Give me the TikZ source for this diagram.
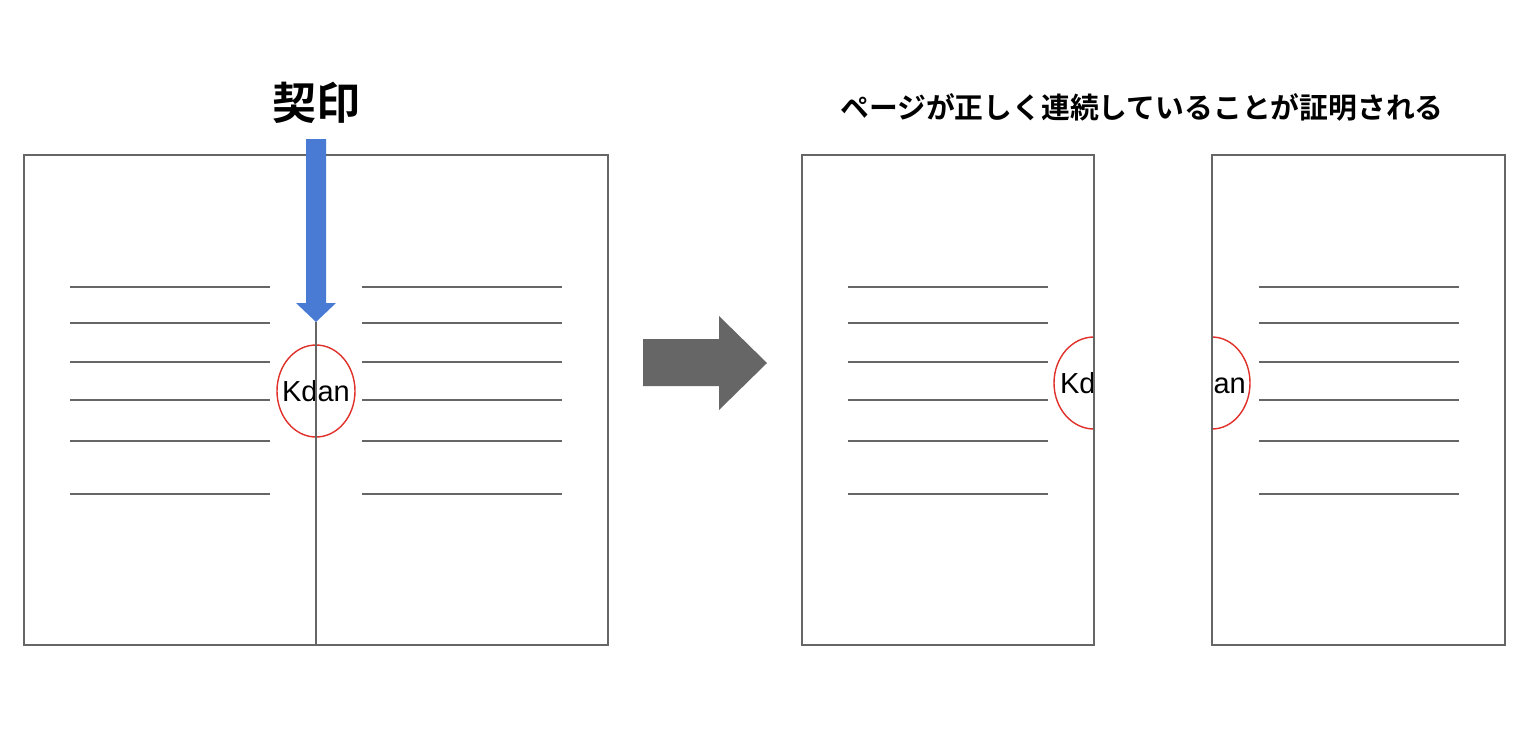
\documentclass[tikz,border=0pt]{standalone}
\usepackage{fontspec}
\setmainfont{Liberation Sans}
\newfontfamily\jpfont{Noto Sans CJK JP}
\newfontfamily\jpbold{Noto Sans CJK JP Bold}
\definecolor{pagegray}{HTML}{666666}
\definecolor{stampred}{HTML}{E0302A}
\definecolor{arrowblue}{HTML}{4A7BD4}
\begin{document}
\begin{tikzpicture}[x=0.5pt,y=-0.5pt,
  pageframe/.style={draw=pagegray,line width=0.75pt},
  textline/.style={draw=pagegray,line width=0.7pt},
  stamp/.style={draw=stampred,line width=0.7pt},
  stamptext/.style={inner sep=0pt,font=\fontsize{14.5}{16}\selectfont}]
\useasboundingbox[fill=white] (0,0) rectangle (1530,734);

% titles
\node (keiin) at (316,103) {\jpbold\fontsize{22}{24}\selectfont 契印};
\node (caption) at (1142,107) {\jpbold\fontsize{14.4}{16}\selectfont ページが正しく連続していることが証明される};

% left spread
\draw[pageframe] (24,155) rectangle (608,645);
\foreach \y in {287,323,362,400,441,494}{
  \draw[textline] (70,\y) -- (270,\y);
  \draw[textline] (362,\y) -- (562,\y);
}
\draw[stamp] (316,391) ellipse [x radius=39, y radius=46];
\node[stamptext] (kdanA) at (316,391) {Kdan};
\coordinate (spinetop) at (316,322);
\coordinate (spinebot) at (316,645);
\draw[pageframe] (spinetop) -- (spinebot);

% blue arrow
\fill[arrowblue] (306,139) -- (326,139) -- (326,303) -- (336,303) -- (316,322) -- (296,303) -- (306,303) -- cycle;

% gray arrow
\fill[pagegray] (643,339) -- (719,339) -- (719,316) -- (767,363) -- (719,410) -- (719,386) -- (643,386) -- cycle;

% middle page
\foreach \y in {287,323,362,400,441,494}{
  \draw[textline] (848,\y) -- (1048,\y);
}
\begin{scope}
  \clip (802,155) rectangle (1094,645);
  \draw[stamp] (1094,383) ellipse [x radius=40, y radius=46];
  \node[stamptext] (kdanB) at (1094,383) {Kdan};
\end{scope}
\draw[pageframe] (802,155) rectangle (1094,645);

% right page
\foreach \y in {287,323,362,400,441,494}{
  \draw[textline] (1259,\y) -- (1459,\y);
}
\begin{scope}
  \clip (1212,155) rectangle (1505,645);
  \draw[stamp] (1212,383) ellipse [x radius=38, y radius=46];
  \node[stamptext] (kdanC) at (1212,383) {Kdan};
\end{scope}
\draw[pageframe] (1212,155) rectangle (1505,645);
\end{tikzpicture}
\end{document}
